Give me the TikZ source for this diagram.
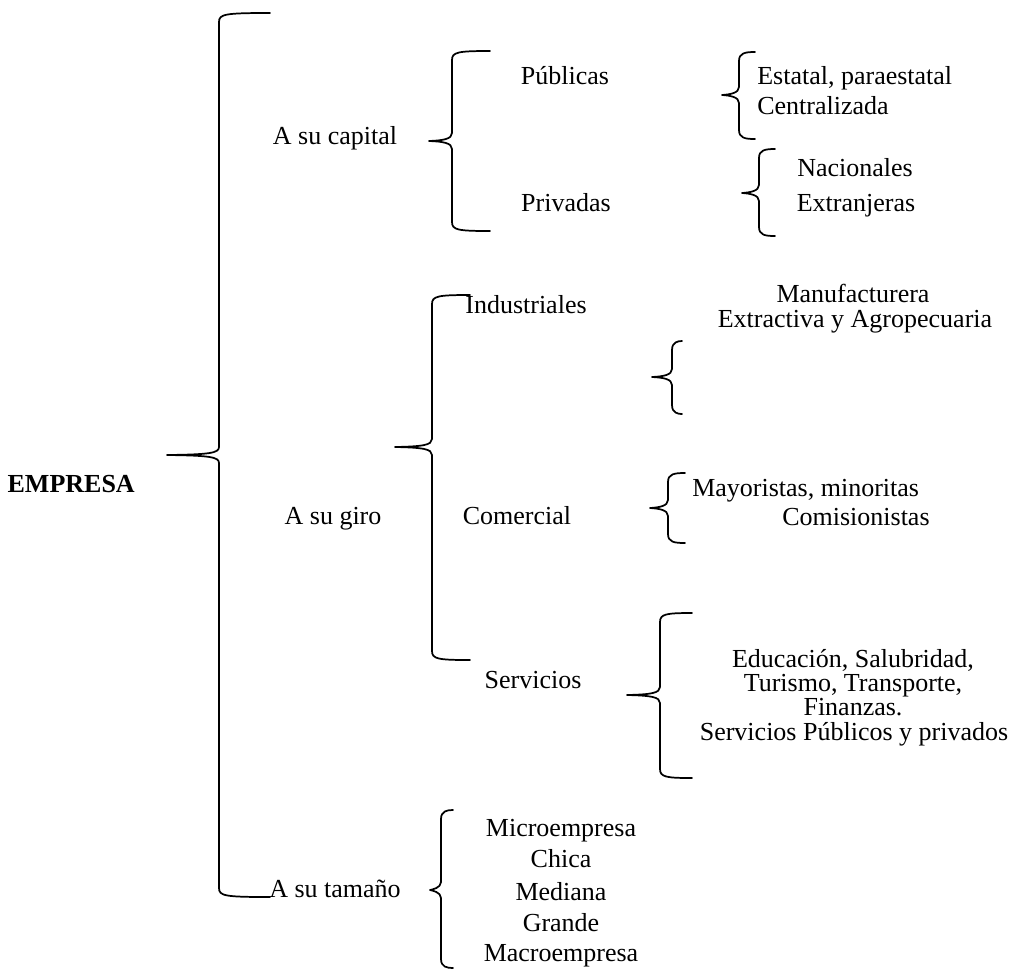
\documentclass[tikz,border=0pt]{standalone}
\usepackage{fontspec}
\setmainfont{Liberation Serif}
\tikzset{
  lbl/.style={inner sep=0pt, text height=0.76em, text depth=0.12em, font=\fontsize{19.5}{23}\selectfont},
  brace/.style={line width=1.3pt, line cap=round, line join=round}
}
% #1 x of vertical, #2 x of tip, #3 x of ends, #4 y top, #5 y tip, #6 y bottom
\newcommand\mybrace[6]{%
  \draw[brace] (#3,#4) .. controls ({#1+6},#4) and (#1,{#4+1}) .. (#1,{#4+9})
    -- (#1,{#5-8}) .. controls (#1,{#5-2}) and ({#1-9},{#5-0.5}) .. (#2,#5)
    .. controls ({#1-9},{#5+0.5}) and (#1,{#5+2}) .. (#1,{#5+8})
    -- (#1,{#6-9}) .. controls (#1,{#6-1}) and ({#1+6},#6) .. (#3,#6);}
\begin{document}
\begin{tikzpicture}[x=0.75pt,y=-0.75pt]
\useasboundingbox (0,0) rectangle (1016,972);
% braces
\mybrace{219}{167}{270}{13}{455}{897}
\mybrace{452}{429}{490}{51}{141}{231}
\mybrace{739}{722}{755}{52}{95}{139}
\mybrace{759}{742}{775}{149}{193}{236}
\mybrace{432}{395}{470}{295}{447}{660}
\mybrace{672}{652}{682}{341}{377}{414}
\mybrace{668}{650}{685}{473}{508}{543}
\mybrace{660}{627}{692}{613}{695}{778}
\mybrace{441}{430}{453}{810}{890}{968}
% labels
\node[lbl, font=\fontsize{19.5}{23}\selectfont\bfseries, anchor=east] (empresa) at (135,488) {EMPRESA};
\node[lbl] (capital) at (335,140) {A su capital};
\node[lbl] (publicas) at (565,80) {Públicas};
\node[lbl] (privadas) at (566,207) {Privadas};
\node[lbl, anchor=west] (estatal) at (757,80) {Estatal, paraestatal};
\node[lbl, anchor=west] (central) at (757,110) {Centralizada};
\node[lbl] (nacionales) at (855,172) {Nacionales};
\node[lbl] (extranjeras) at (856,207) {Extranjeras};
\node[lbl] (giro) at (333,520) {A su giro};
\node[lbl] (industriales) at (526,309) {Industriales};
\node[lbl] (manuf) at (853,298) {Manufacturera};
\node[lbl] (extractiva) at (855,323) {Extractiva y Agropecuaria};
\node[lbl] (comercial) at (517,520) {Comercial};
\node[lbl, anchor=west] (mayoristas) at (692,492) {Mayoristas, minoritas};
\node[lbl, anchor=west] (comisionistas) at (782,521) {Comisionistas};
\node[lbl] (servicios) at (533,684) {Servicios};
\node[lbl] (educ) at (853,663) {Educación, Salubridad,};
\node[lbl] (turismo) at (853,687) {Turismo, Transporte,};
\node[lbl] (finanzas) at (853,711) {Finanzas.};
\node[lbl] (servpub) at (854,736) {Servicios Públicos y privados};
\node[lbl, anchor=west] (tamano) at (269,893) {A su tamaño};
\node[lbl] (micro) at (561,832) {Microempresa};
\node[lbl] (chica) at (561,863) {Chica};
\node[lbl] (mediana) at (561,896) {Mediana};
\node[lbl] (grande) at (561,927) {Grande};
\node[lbl] (macro) at (561,957) {Macroempresa};
\end{tikzpicture}
\end{document}
